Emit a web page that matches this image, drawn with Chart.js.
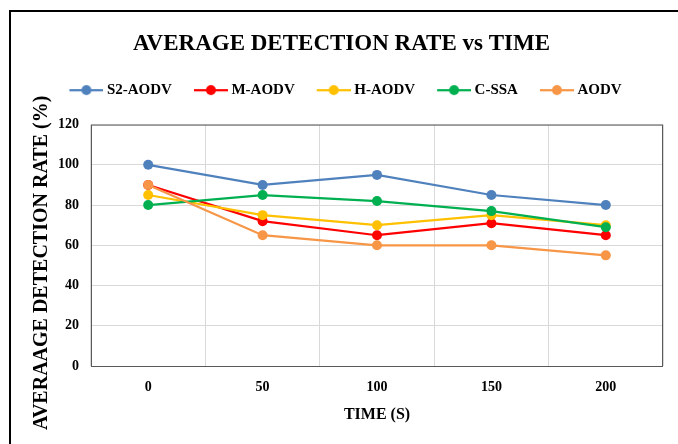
<!DOCTYPE html>
<html>
<head>
<meta charset="utf-8">
<script src="https://cdn.jsdelivr.net/npm/chart.js@4.4.1/dist/chart.umd.min.js"></script>
<style>
  html, body { margin: 0; padding: 0; background: #fff; }
  #wrap { width: 678px; height: 444px; }
</style>
</head>
<body>
<div id="wrap"><canvas id="myChart" width="678" height="444"></canvas></div>
<script>
// data
let times = ['0', '50', '100', '150', '200'];
let s2aodv = [100, 90, 95, 85, 80];
let maodv = [90, 72, 65, 71, 65];
let haodv = [85, 75, 70, 75, 70];
let cssa = [80, 85, 82, 77, 69];
let aodv = [90, 65, 60, 60, 55];
let yTicks = [0, 20, 40, 60, 80, 100, 120];

let serif = "'Liberation Serif', 'Times New Roman', serif";

// legend marker: a short line with a dot on it
function marker(color) {
    let c = document.createElement('canvas');
    c.width = 46;
    c.height = 14;
    let g = c.getContext('2d');
    g.strokeStyle = color;
    g.lineWidth = 2.25;
    g.beginPath();
    g.moveTo(12, 7);
    g.lineTo(46, 7);
    g.stroke();
    g.fillStyle = color;
    g.beginPath();
    g.arc(29, 7, 5, 0, Math.PI * 2);
    g.fill();
    return c;
}

function series(label, data, color, order) {
    return {
        label: label,
        data: data,
        borderColor: color,
        backgroundColor: color,
        borderWidth: 2.25,
        pointRadius: 5,
        pointHoverRadius: 5,
        pointBorderWidth: 0,
        tension: 0,
        order: order
    };
}

// black frame on the top and left
let frame = {
    id: 'frame',
    beforeDraw(chart) {
        let c = chart.ctx;
        c.save();
        c.strokeStyle = '#000';
        c.lineWidth = 2;
        c.beginPath();
        c.moveTo(10, 444);
        c.lineTo(10, 11);
        c.lineTo(678, 11);
        c.stroke();
        c.restore();
    }
};

// dark border round the plot area
let plotBorder = {
    id: 'plotBorder',
    beforeDatasetsDraw(chart) {
        let a = chart.chartArea;
        let c = chart.ctx;
        c.save();
        c.strokeStyle = '#595959';
        c.lineWidth = 1;
        c.strokeRect(a.left + 0.5, a.top + 0.5, a.right - a.left - 1, a.bottom - a.top);
        c.restore();
    }
};

// space between legend and plot
let legendMargin = {
    id: 'legendMargin',
    beforeInit(chart) {
        let fit = chart.legend.fit;
        chart.legend.fit = function () {
            fit.bind(chart.legend)();
            this.height += 17;
        };
    }
};

let ctx = document.getElementById('myChart').getContext('2d');
let chart = new Chart(ctx, {
    type: 'line',
    data: {
        labels: times,
        datasets: [
            series('S2-AODV', s2aodv, '#4F81BD', 5),
            series('M-AODV', maodv, '#FF0000', 4),
            series('H-AODV', haodv, '#FFC000', 3),
            series('C-SSA', cssa, '#00B050', 2),
            series('AODV', aodv, '#F79646', 1)
        ]
    },
    options: {
        responsive: false,
        animation: false,
        layout: { padding: { left: 20, right: 15, top: 10, bottom: 10 } },
        plugins: {
            title: {
                display: true,
                text: 'AVERAGE DETECTION RATE vs TIME',
                color: '#000',
                font: { family: serif, size: 23, weight: 'bold' },
                padding: { top: 20, bottom: 11 }
            },
            legend: {
                position: 'top',
                labels: {
                    usePointStyle: true,
                    pointStyleWidth: 38,
                    boxHeight: 14,
                    padding: 14,
                    color: '#000',
                    font: { family: serif, size: 15, weight: 'bold' },
                    sort: (a, b) => a.datasetIndex - b.datasetIndex,
                    generateLabels(chart) {
                        let items = Chart.defaults.plugins.legend.labels.generateLabels(chart);
                        items.forEach(it => {
                            let ds = chart.data.datasets[it.datasetIndex];
                            it.pointStyle = marker(ds.borderColor);
                        });
                        return items;
                    }
                }
            },
            tooltip: { enabled: false }
        },
        scales: {
            x: {
                offset: true,
                grid: { offset: true, color: '#d9d9d9', drawTicks: false },
                border: { display: false },
                ticks: {
                    color: '#000',
                    padding: 13,
                    font: { family: serif, size: 14, weight: 'bold' }
                },
                title: {
                    display: true,
                    text: 'TIME (S)',
                    color: '#000',
                    font: { family: serif, size: 16, weight: 'bold' },
                    padding: { top: 0, bottom: 10 }
                },
                afterFit(scale) { scale.height = 68; }
            },
            y: {
                min: 0,
                max: 120,
                afterBuildTicks(scale) { scale.ticks = yTicks.map(v => ({ value: v })); },
                grid: { color: '#d9d9d9', drawTicks: false },
                border: { display: false },
                ticks: {
                    color: '#000',
                    padding: 12,
                    font: { family: serif, size: 14, weight: 'bold' }
                },
                title: {
                    display: true,
                    // trailing spaces push the rotated text down a little, as in the original
                    text: 'AVERAAGE DETECTION RATE (%)       ',
                    color: '#000',
                    font: { family: serif, size: 20, weight: 'bold' },
                    padding: { top: 10, bottom: 0 }
                },
                afterFit(scale) { scale.width = 71; }
            }
        }
    },
    plugins: [frame, plotBorder, legendMargin]
});
</script>
</body>
</html>
